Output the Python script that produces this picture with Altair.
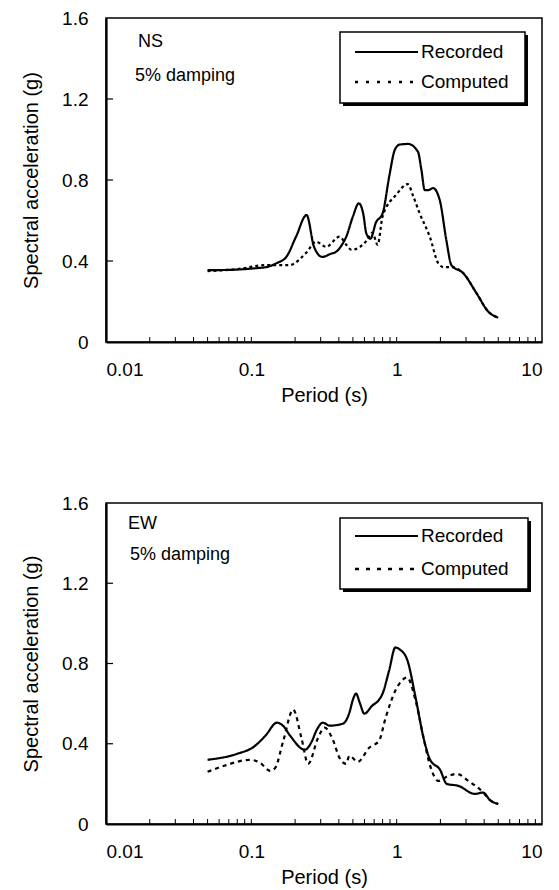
import altair as alt
import pandas as pd

FONT = "Liberation Sans"

# ---- NS panel data ----
ns_rec_period = [0.05, 0.07, 0.09, 0.11, 0.127, 0.15, 0.174, 0.203, 0.24, 0.27, 0.308, 0.35, 0.384,
                 0.42, 0.45, 0.5, 0.549, 0.59, 0.618, 0.66, 0.72, 0.80, 0.895, 0.97, 1.05, 1.20,
                 1.40, 1.48, 1.56, 1.65, 1.78, 1.98, 2.2, 2.38, 2.87, 3.55, 4.27, 5.0]
ns_rec_sa = [0.355, 0.356, 0.36, 0.365, 0.37, 0.39, 0.42, 0.52, 0.627, 0.47, 0.42, 0.435, 0.446,
             0.48, 0.52, 0.62, 0.685, 0.63, 0.537, 0.51, 0.59, 0.635, 0.83, 0.948, 0.975, 0.978,
             0.94, 0.85, 0.75, 0.75, 0.76, 0.70, 0.5, 0.38, 0.34, 0.24, 0.15, 0.12]
ns_com_period = [0.05, 0.08, 0.127, 0.183, 0.238, 0.279, 0.327, 0.405, 0.45, 0.49, 0.56, 0.62,
                 0.68, 0.74, 0.80, 1.0, 1.19, 1.3, 1.44, 1.69, 1.93, 2.1, 2.38, 2.87, 3.55, 4.27, 5.0]
ns_com_sa = [0.35, 0.36, 0.38, 0.38, 0.44, 0.495, 0.47, 0.52, 0.48, 0.455, 0.47, 0.50,
             0.54, 0.48, 0.62, 0.73, 0.78, 0.72, 0.635, 0.52, 0.39, 0.37, 0.37, 0.34, 0.24, 0.15, 0.12]

# ---- EW panel data ----
ew_rec_period = [0.05, 0.08, 0.104, 0.125, 0.15, 0.165, 0.185, 0.233, 0.26, 0.28, 0.311, 0.346,
                 0.426, 0.473, 0.50, 0.525, 0.56, 0.598, 0.68, 0.757, 0.80, 0.887, 0.98, 1.05,
                 1.18, 1.35, 1.53, 1.70, 1.99, 2.21, 2.66, 3.45, 3.94, 4.37, 5.0]
ew_rec_sa = [0.32, 0.35, 0.385, 0.44, 0.505, 0.49, 0.44, 0.37, 0.41, 0.465, 0.505, 0.49,
             0.50, 0.555, 0.62, 0.65, 0.60, 0.55, 0.59, 0.62, 0.65, 0.765, 0.88, 0.87,
             0.82, 0.63, 0.43, 0.32, 0.27, 0.20, 0.19, 0.15, 0.157, 0.12, 0.10]
ew_com_period = [0.05, 0.065, 0.098, 0.115, 0.135, 0.146, 0.166, 0.194, 0.221, 0.246, 0.288,
                 0.319, 0.364, 0.404, 0.449, 0.473, 0.54, 0.647, 0.757, 0.84, 0.98, 1.18, 1.35,
                 1.53, 1.70, 1.94, 2.27, 2.59, 3.11, 3.94, 4.37, 5.0]
ew_com_sa = [0.26, 0.29, 0.32, 0.305, 0.265, 0.28, 0.415, 0.57, 0.43, 0.30, 0.43,
             0.48, 0.42, 0.33, 0.30, 0.34, 0.31, 0.38, 0.415, 0.53, 0.665, 0.73, 0.615,
             0.43, 0.29, 0.215, 0.24, 0.25, 0.215, 0.157, 0.12, 0.10]

series_names = ["Recorded", "Computed"]
x_tick_values = [0.01, 0.1, 1, 10]
y_tick_values = [0, 0.4, 0.8, 1.2, 1.6]
x_minor = [0.02, 0.03, 0.04, 0.05, 0.06, 0.07, 0.08, 0.09, 0.1,
           0.2, 0.3, 0.4, 0.5, 0.6, 0.7, 0.8, 0.9, 1,
           2, 3, 4, 5, 6, 7, 8, 9]
y_minor = [0.4, 0.8, 1.2]

W = 436
ONE = alt.Data(values=[{}])


def legend_box(lx, ly, w, h, row1, row2, ldash):
    shadow = alt.Chart(ONE).mark_rect(color="black").encode(
        x=alt.value(lx + 3), x2=alt.value(lx + w + 3), y=alt.value(ly + 3), y2=alt.value(ly + h + 3))
    box = alt.Chart(ONE).mark_rect(fill="white", stroke="black", strokeWidth=1.5).encode(
        x=alt.value(lx), x2=alt.value(lx + w), y=alt.value(ly), y2=alt.value(ly + h))
    l1 = alt.Chart(ONE).mark_rule(color="black", strokeWidth=2).encode(
        x=alt.value(lx + 15), x2=alt.value(lx + 78), y=alt.value(row1))
    l2 = alt.Chart(ONE).mark_rule(color="black", strokeWidth=2.4, strokeDash=ldash).encode(
        x=alt.value(lx + 15), x2=alt.value(lx + 79), y=alt.value(row2))
    t1 = alt.Chart(ONE).mark_text(align="left", baseline="middle", font=FONT, fontSize=19,
                                  color="black").encode(
        x=alt.value(lx + 81), y=alt.value(row1), text=alt.value(series_names[0]))
    t2 = alt.Chart(ONE).mark_text(align="left", baseline="middle", font=FONT, fontSize=19,
                                  color="black").encode(
        x=alt.value(lx + 81), y=alt.value(row2), text=alt.value(series_names[1]))
    return [shadow, box, l1, l2, t1, t2]


def panel(name, rec_p, rec_v, com_p, com_v, H, dash, ldash, ann_pos, leg):
    rows = []
    for p, v in zip(rec_p, rec_v):
        rows.append({"period": p, "sa": v, "series": "Recorded"})
    for p, v in zip(com_p, com_v):
        rows.append({"period": p, "sa": v, "series": "Computed"})
    df = pd.DataFrame(rows)

    xscale = alt.Scale(type="log", domain=[0.01, 10], nice=False)
    yscale = alt.Scale(domain=[0, 1.6], nice=False)

    lines = alt.Chart(df).mark_line(color="black", strokeWidth=2.2, interpolate="monotone").encode(
        x=alt.X("period:Q", scale=xscale, title="Period (s)",
                axis=alt.Axis(values=x_tick_values, format="~g")),
        y=alt.Y("sa:Q", scale=yscale, title="Spectral acceleration (g)",
                axis=alt.Axis(values=y_tick_values, format="~g")),
        strokeDash=alt.StrokeDash(
            "series:N",
            scale=alt.Scale(domain=series_names, range=[[1, 0], dash]),
            legend=None,
        ),
        detail="series:N",
    )

    tdf = pd.DataFrame({"t": x_minor})
    xticks = alt.Chart(tdf).mark_rule(color="black", strokeWidth=1).encode(
        x=alt.X("t:Q", scale=xscale), y=alt.value(H), y2=alt.value(H - 5))
    ydf = pd.DataFrame({"t": y_minor})
    yticks = alt.Chart(ydf).mark_rule(color="black", strokeWidth=1.2).encode(
        y=alt.Y("t:Q", scale=yscale), x=alt.value(0), x2=alt.value(7))

    t1 = alt.Chart(ONE).mark_text(align="left", baseline="middle", font=FONT, fontSize=18,
                                  color="black").encode(
        x=alt.value(ann_pos[0]), y=alt.value(ann_pos[1]), text=alt.value(name))
    t2 = alt.Chart(ONE).mark_text(align="left", baseline="middle", font=FONT, fontSize=18,
                                  color="black").encode(
        x=alt.value(ann_pos[2]), y=alt.value(ann_pos[3]), text=alt.value("5% damping"))

    layers = [xticks, yticks, lines, t1, t2] + legend_box(*leg, ldash)
    return alt.layer(*layers).properties(width=W, height=H)


top = panel("NS", ns_rec_period, ns_rec_sa, ns_com_period, ns_com_sa, 324, [3, 3], [3, 8],
            (32, 24, 29, 58), (234, 14, 185, 71, 34, 64))
bottom = panel("EW", ew_rec_period, ew_rec_sa, ew_com_period, ew_com_sa, 321, [4, 4], [4, 7],
               (22, 21, 24, 52), (234, 15, 188, 71, 33, 66))

chart = alt.vconcat(top, bottom, spacing=87).resolve_scale(strokeDash="independent").properties(
    padding={"left": 12, "top": 0, "right": 5, "bottom": 0}
).configure_view(stroke="black", strokeWidth=1.5).configure_axis(
    grid=False, ticks=False, domainColor="black", domainWidth=2.2,
    labelFont=FONT, labelFontSize=19, labelColor="black", labelPadding=18,
    titleFont=FONT, titleFontSize=20, titleFontWeight="normal", titleColor="black",
).configure_axisX(titlePadding=6, labelPadding=18).configure_axisY(titlePadding=20, labelPadding=18)

chart.save("out.html", embed_options={"renderer": "svg", "actions": False})
